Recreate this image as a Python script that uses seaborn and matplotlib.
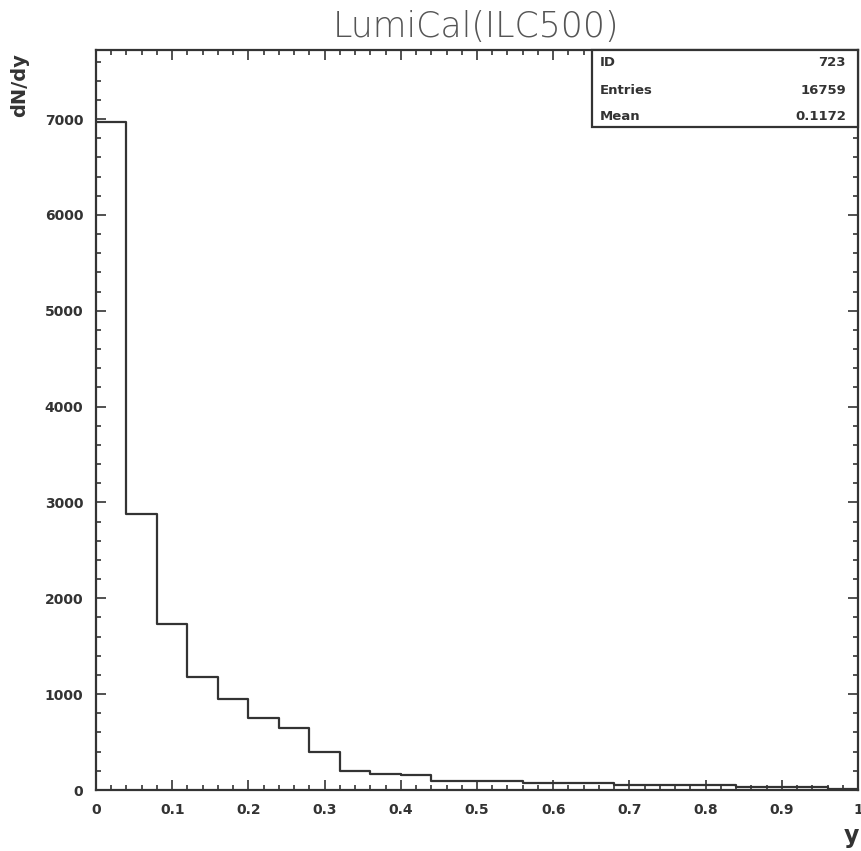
import numpy as np
import pandas as pd
import matplotlib
matplotlib.use("Agg")
import matplotlib.pyplot as plt
import seaborn as sns
from matplotlib.ticker import MultipleLocator

# ---- data ----
bin_edges = [round(0.04 * i, 2) for i in range(26)]
counts = [6966, 2878, 1731, 1175, 952, 751, 650, 396, 200, 169,
          154, 99, 97, 97, 70, 70, 70, 49, 49, 49,
          49, 28, 28, 28, 10]
title = "LumiCal(ILC500)"
stats_labels = ["ID", "Entries", "Mean"]
stats_values = ["723", "16759", "0.1172"]
x_ticks = [0, 0.1, 0.2, 0.3, 0.4, 0.5, 0.6, 0.7, 0.8, 0.9, 1]
x_ticklabels = ["0", "0.1", "0.2", "0.3", "0.4", "0.5", "0.6", "0.7", "0.8", "0.9", "1"]
y_ticks = [0, 1000, 2000, 3000, 4000, 5000, 6000, 7000]

sns.set_style("white")
plt.rcParams["font.family"] = ["DejaVu Sans"]

centers = [(bin_edges[i] + bin_edges[i + 1]) / 2 for i in range(len(counts))]
df = pd.DataFrame({"y": centers, "n": counts})

fig = plt.figure(figsize=(8.62, 8.51), dpi=100)
ax = fig.add_axes([96 / 862, 1 - 790 / 851, 762 / 862, 740 / 851])

sns.histplot(data=df, x="y", weights="n", bins=bin_edges, element="step",
             fill=False, color="#333333", linewidth=1.6, ax=ax)

ax.set_xlim(0, 1)
ax.set_ylim(0, 7720)
ax.set_xticks(x_ticks)
ax.set_xticklabels(x_ticklabels)
ax.set_yticks(y_ticks)
ax.xaxis.set_minor_locator(MultipleLocator(0.02))
ax.yaxis.set_minor_locator(MultipleLocator(200))
ax.tick_params(which="both", direction="in", top=True, right=True,
               bottom=True, left=True,
               labeltop=False, labelright=False, color="#333333", width=1.2)
ax.tick_params(which="major", length=7.2, labelsize=10, pad=9)
ax.tick_params(which="minor", length=3.6)
for lab in ax.get_xticklabels() + ax.get_yticklabels():
    lab.set_fontweight("bold")
    lab.set_color("#333333")
for s in ax.spines.values():
    s.set_color("#333333")
    s.set_linewidth(1.6)
    s.set_visible(True)

ax.set_xlabel("")
ax.set_ylabel("")
fig.text(20 / 862, 1 - 85 / 851, "dN/dy", rotation=90, ha="center", va="center",
         fontsize=14, fontweight="bold", color="#333333")
fig.text(851 / 862, 1 - 836 / 851, "y", ha="center", va="center",
         fontsize=17, fontweight="bold", color="#333333")
fig.text(476 / 862, 1 - 37 / 851, title, ha="center", va="baseline",
         fontsize=25, fontweight="light", color="#555555")

# stats box
x0 = (592 - 96) / 762
y0 = (790 - 127) / 740
ax.add_patch(plt.Rectangle((x0, y0), 1 - x0, 1 - y0, transform=ax.transAxes,
                           fill=True, facecolor="white", edgecolor="#333333",
                           linewidth=1.6, zorder=5, clip_on=False))
rows_y = [62, 90, 117]
for lab, val, py in zip(stats_labels, stats_values, rows_y):
    yy = (790 - py) / 740
    ax.text((600 - 96) / 762, yy, lab, transform=ax.transAxes, ha="left",
            va="center", fontsize=9.5, fontweight="bold", color="#333333", zorder=6)
    ax.text((846 - 96) / 762, yy, val, transform=ax.transAxes, ha="right",
            va="center", fontsize=9.5, fontweight="bold", color="#333333", zorder=6)

fig.savefig("out.png", dpi=100)
